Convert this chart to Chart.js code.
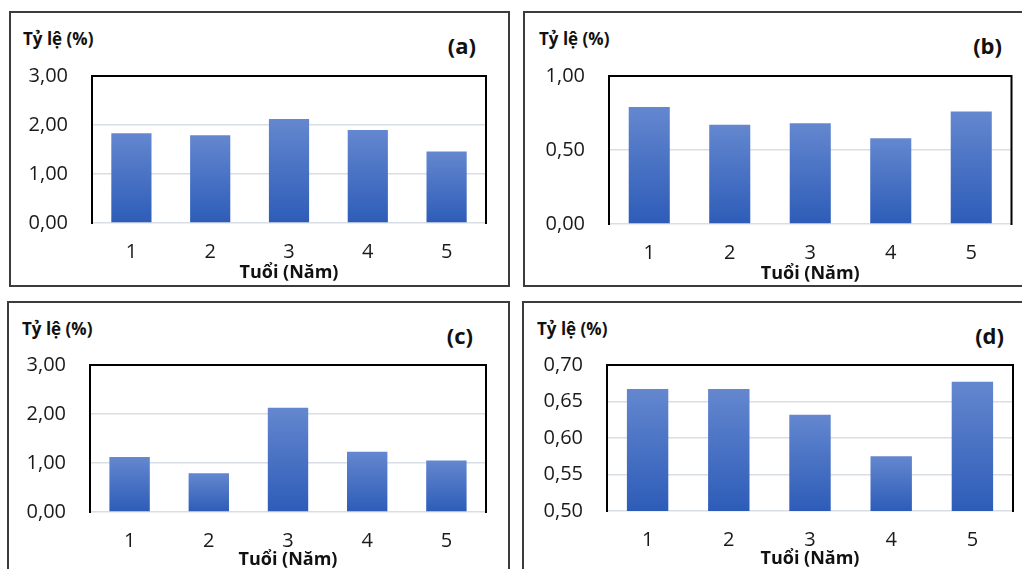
<!DOCTYPE html>
<html>
<head>
<meta charset="utf-8">
<script src="https://cdn.jsdelivr.net/npm/chart.js@4"></script>
<style>
  body { margin: 0; background: #fff; width: 1022px; height: 569px; overflow: hidden; position: relative; font-family: "Open Sans", sans-serif; }
  .frame { position: absolute; border: 2px solid #3c3c3c; box-sizing: border-box; }
  canvas { position: absolute; }
  .ylab { position: absolute; font-weight: bold; font-size: 17px; line-height: 22px; color: #111; white-space: nowrap; }
  .tag { position: absolute; font-weight: bold; font-size: 22px; line-height: 28px; color: #111; white-space: nowrap; text-align: right; }
</style>
</head>
<body>
<script>
// data
var ages = ["1", "2", "3", "4", "5"];
var rateA = [1.83, 1.79, 2.12, 1.90, 1.46];
var rateB = [0.79, 0.67, 0.68, 0.58, 0.76];
var rateC = [1.12, 0.79, 2.13, 1.23, 1.05];
var rateD = [0.667, 0.667, 0.632, 0.575, 0.677];
var ticksA = [0, 1, 2, 3];
var ticksB = [0, 0.5, 1];
var ticksC = [0, 1, 2, 3];
var ticksD = [0.5, 0.55, 0.6, 0.65, 0.7];

var yTitle = "Tỷ lệ (%)";
var xTitle = "Tuổi (Năm)";

// layout of the four panels (page pixels)
var panels = [
  { tag: "(a)", values: rateA, ticks: ticksA,
    frame: { x: 9, y: 11, w: 501, h: 276 }, plot: { l: 92, t: 76, r: 486, b: 223 },
    ylab: { x: 23, cy: 39 }, tagPos: { r: 476, cy: 45 }, titleGap: 50 },
  { tag: "(b)", values: rateB, ticks: ticksB,
    frame: { x: 523, y: 11, w: 502, h: 276 }, plot: { l: 609, t: 76, r: 1011.5, b: 224 },
    ylab: { x: 539, cy: 39 }, tagPos: { r: 1002, cy: 45 }, titleGap: 49.5 },
  { tag: "(c)", values: rateC, ticks: ticksC,
    frame: { x: 7, y: 301, w: 503, h: 275 }, plot: { l: 90, t: 365, r: 486, b: 512 },
    ylab: { x: 22, cy: 329 }, tagPos: { r: 473, cy: 335 }, titleGap: 47.5 },
  { tag: "(d)", values: rateD, ticks: ticksD,
    frame: { x: 522, y: 301, w: 503, h: 275 }, plot: { l: 607, t: 365, r: 1013, b: 511 },
    ylab: { x: 537, cy: 329 }, tagPos: { r: 1004, cy: 335 }, titleGap: 47.5 }
];

// black border on left, top and right of the plot area
var plotBorder = {
  id: "plotBorder",
  afterDatasetsDraw: function (chart) {
    var a = chart.chartArea;
    var c = chart.ctx;
    c.save();
    c.strokeStyle = "#000";
    c.lineWidth = 2;
    c.beginPath();
    c.moveTo(a.left, a.bottom + 1);
    c.lineTo(a.left, a.top);
    c.lineTo(a.right, a.top);
    c.lineTo(a.right, a.bottom + 1);
    c.stroke();
    c.restore();
  }
};

function fmt(v) {
  return v.toFixed(2).replace(".", ",");
}

function addDiv(cls, text, style) {
  var d = document.createElement("div");
  d.className = cls;
  d.textContent = text || "";
  for (var k in style) d.style[k] = style[k];
  document.body.appendChild(d);
  return d;
}

function buildPanel(p) {
  var f = p.frame;
  addDiv("frame", "", { left: f.x + "px", top: f.y + "px", width: f.w + "px", height: f.h + "px" });
  addDiv("ylab", yTitle, { left: p.ylab.x + "px", top: (p.ylab.cy - 11) + "px" });
  addDiv("tag", p.tag, { right: (1022 - p.tagPos.r) + "px", top: (p.tagPos.cy - 14) + "px" });

  var canvas = document.createElement("canvas");
  canvas.width = f.w;
  canvas.height = f.h;
  canvas.style.left = f.x + "px";
  canvas.style.top = f.y + "px";
  document.body.appendChild(canvas);

  var yWidth = p.plot.l - f.x;
  var xHeight = f.y + f.h - p.plot.b;
  var padTop = p.plot.t - f.y;
  var padRight = f.x + f.w - p.plot.r;
  var titleLH = 18 * 1.2;
  var titlePadBottom = xHeight - p.titleGap - titleLH / 2;

  new Chart(canvas.getContext("2d"), {
    type: "bar",
    data: {
      labels: ages,
      datasets: [
        {
          data: p.values,
          categoryPercentage: 1,
          barPercentage: 0.51,
          borderWidth: 0,
          backgroundColor: function (ctx) {
            var chart = ctx.chart;
            var area = chart.chartArea;
            if (!area) return "#4472c4";
            var top = chart.scales.y.getPixelForValue(ctx.raw);
            var g = chart.ctx.createLinearGradient(0, top, 0, area.bottom);
            g.addColorStop(0, "#6487cf");
            g.addColorStop(1, "#2d5cb8");
            return g;
          },
        },
      ],
    },
    options: {
      responsive: false,
      animation: false,
      devicePixelRatio: 1,
      layout: { padding: { top: padTop, right: padRight, left: 0, bottom: 0 } },
      plugins: { legend: { display: false }, tooltip: { enabled: false } },
      scales: {
        x: {
          grid: { display: false },
          border: { display: false },
          ticks: { padding: 9, color: "#1a1a1a", font: { family: "Open Sans", size: 20 } },
          title: {
            display: true,
            text: xTitle,
            color: "#111",
            padding: { top: 0, bottom: titlePadBottom },
            font: { family: "Open Sans", size: 18, weight: "bold" },
          },
          afterFit: function (scale) { scale.height = xHeight; },
        },
        y: {
          min: p.ticks[0],
          max: p.ticks[p.ticks.length - 1],
          afterBuildTicks: function (scale) {
            scale.ticks = p.ticks.map(function (v) { return { value: v }; });
          },
          grid: { color: "#d9dde5", lineWidth: 1.5, drawTicks: false },
          border: { display: false },
          ticks: {
            padding: 24,
            color: "#1a1a1a",
            font: { family: "Open Sans", size: 20 },
            callback: function (v) { return fmt(v); },
          },
          afterFit: function (scale) { scale.width = yWidth; },
        },
      },
    },
    plugins: [plotBorder],
  });
}

panels.forEach(buildPanel);
</script>
</body>
</html>
